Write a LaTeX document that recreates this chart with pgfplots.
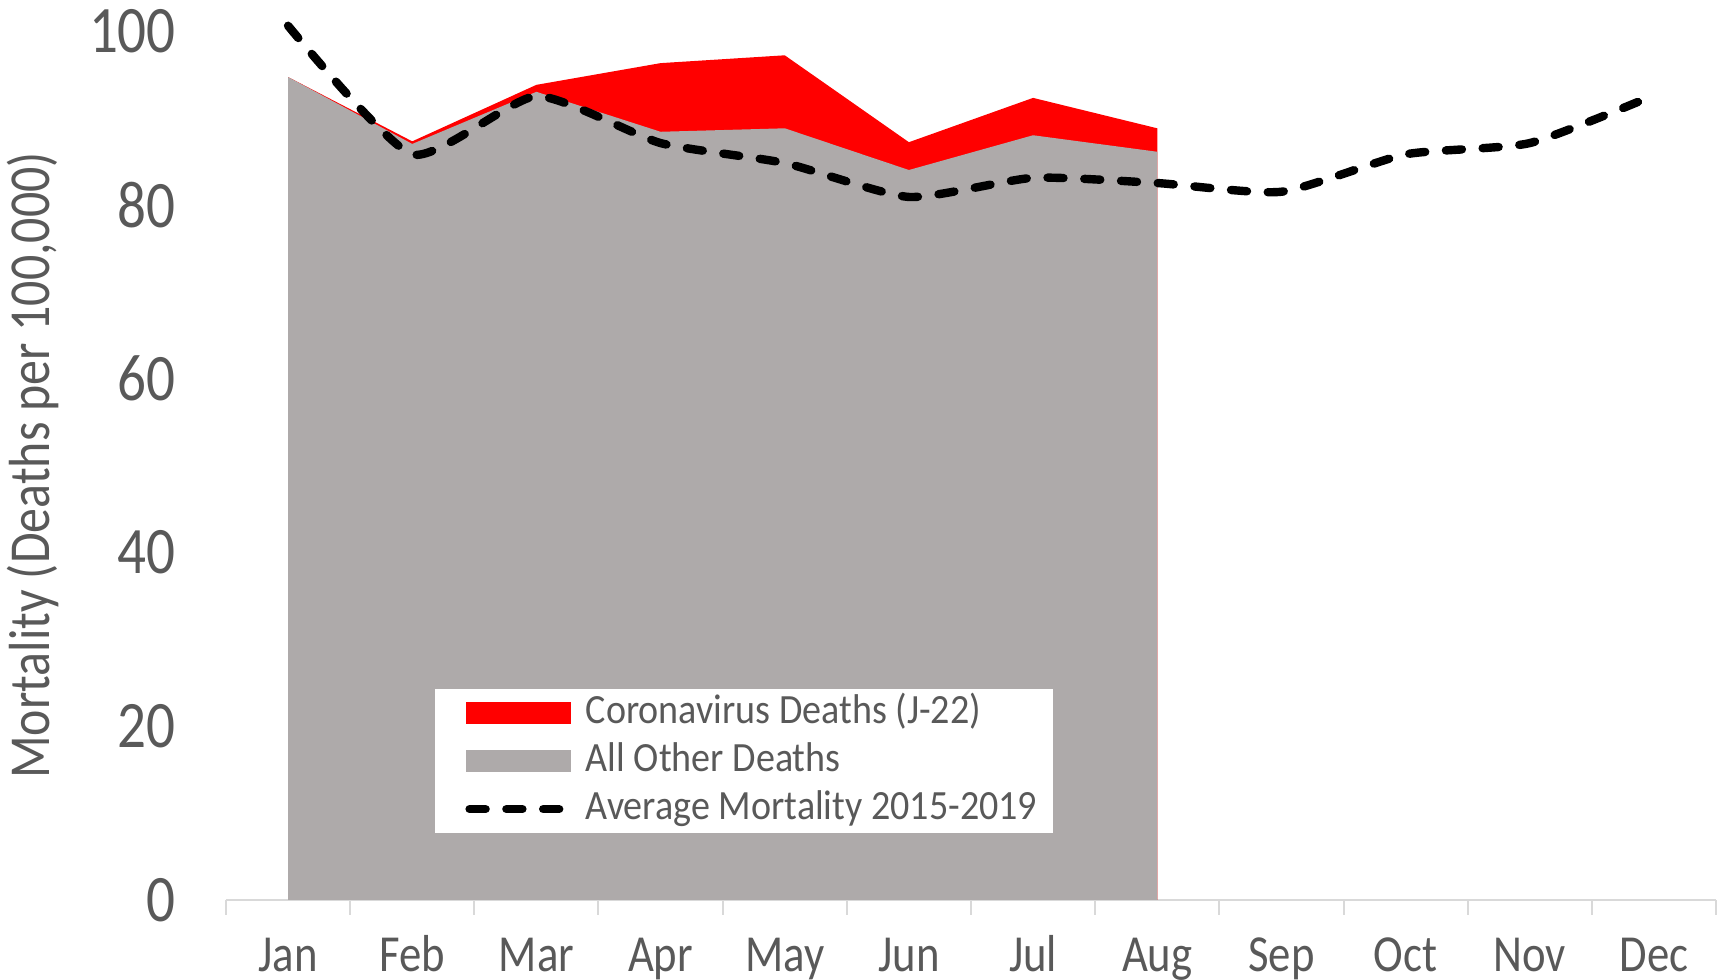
\documentclass[border=0pt]{standalone}
\usepackage{fontspec}
\setmainfont[FakeStretch=0.86]{Carlito}
\newfontfamily\legfont[FakeStretch=0.915]{Carlito}
\usepackage{pgfplots}
\pgfplotsset{compat=1.18}
\usepackage{pgfplotstable}

\definecolor{txtgray}{HTML}{595959}
\definecolor{areagray}{HTML}{AEAAAA}
\definecolor{axgray}{HTML}{D9D9D9}

% month index, average 2015-2019
\pgfplotstableread{
m avg
0 100.6
1 85.8
2 92.5
3 87.1
4 84.8
5 80.9
6 83.1
7 82.5
8 81.5
9 85.8
10 87.1
11 92.6
}\avgdata

% month index, all other deaths, coronavirus deaths
\pgfplotstableread{
m other corona
0 94.7 0.0
1 87.0 0.3
2 93.0 0.8
3 88.4 7.9
4 88.8 8.4
5 84.0 3.2
6 88.0 4.3
7 86.1 2.7
}\deaths

\begin{document}
\begin{tikzpicture}
\useasboundingbox (-56.5pt,-20pt) rectangle (374.75pt,225pt);
\begin{axis}[
    at={(0,0)}, anchor=south west,
    scale only axis,
    width=372.5pt, height=217.25pt,
    xmin=-0.5, xmax=11.5,
    ymin=0, ymax=100,
    clip=false,
    axis x line*=bottom,
    axis y line*=left,
    x axis line style={draw=axgray, line width=0.5pt},
    y axis line style={draw=none},
    xtick={0,...,11},
    xticklabels={Jan,Feb,Mar,Apr,May,Jun,Jul,Aug,Sep,Oct,Nov,Dec},
    tick align=outside,
    xtick style={draw=axgray, line width=0.5pt},
    major tick length=0pt,
    extra x ticks={-0.5,0.5,...,11.5},
    extra x tick labels={},
    extra x tick style={major tick length=3.75pt},
    ytick={0,20,...,100},
    ytick style={draw=none},
    /pgf/number format/assume math mode=true,
    xticklabel style={font=\fontsize{13}{13}\selectfont, text=txtgray,
        inner sep=0pt, text height=9pt, text depth=2pt, anchor=north, yshift=-8.7pt},
    yticklabel style={font=\fontsize{16.6}{16.6}\selectfont, text=txtgray, anchor=east, xshift=-9pt},
    ylabel={Mortality (Deaths per 100,000)},
    ylabel style={at={(axis description cs:-0.1295,0.5)}, anchor=center,
        font=\fontsize{14.5}{14.5}\selectfont, text=txtgray},
    legend style={at={(axis description cs:0.140,0.076)}, anchor=south west,
        draw=none, fill=white, text=txtgray,
        font=\legfont\fontsize{10.4}{10.4}\selectfont,
        inner xsep=2pt, inner ysep=0pt, row sep=0pt,
        nodes={inner ysep=1.5pt, text height=7.2pt, text depth=1.8pt},
        /tikz/every odd column/.append style={column sep=1pt}},
    legend cell align=left,
]
\addplot[draw=none, fill=red,
    legend image code/.code={\path (-4.5pt,0pt); \fill[red] (0pt,-2.75pt) rectangle (26.4pt,2.75pt);}]
    table[x=m, y expr=\thisrow{other}+\thisrow{corona}] {\deaths} \closedcycle;
\addlegendentry{Coronavirus Deaths (J-22)}
\addplot[draw=none, fill=areagray,
    legend image code/.code={\path (-4.5pt,0pt); \fill[areagray] (0pt,-2.75pt) rectangle (26.4pt,2.75pt);}]
    table[x=m, y=other] {\deaths} \closedcycle;
\addlegendentry{All Other Deaths}
\addplot[black, line width=2.1pt, line cap=round, dash pattern=on 4pt off 5.2pt,
    smooth, tension=0.35,
    legend image code/.code={\path (-4.5pt,0pt); \draw[black, line width=2.1pt, line cap=round, dash pattern=on 4pt off 5.2pt] (1pt,0pt) -- (26pt,0pt);}]
    table[x=m, y=avg] {\avgdata};
\addlegendentry{Average Mortality 2015-2019}
\end{axis}
\end{tikzpicture}
\end{document}
